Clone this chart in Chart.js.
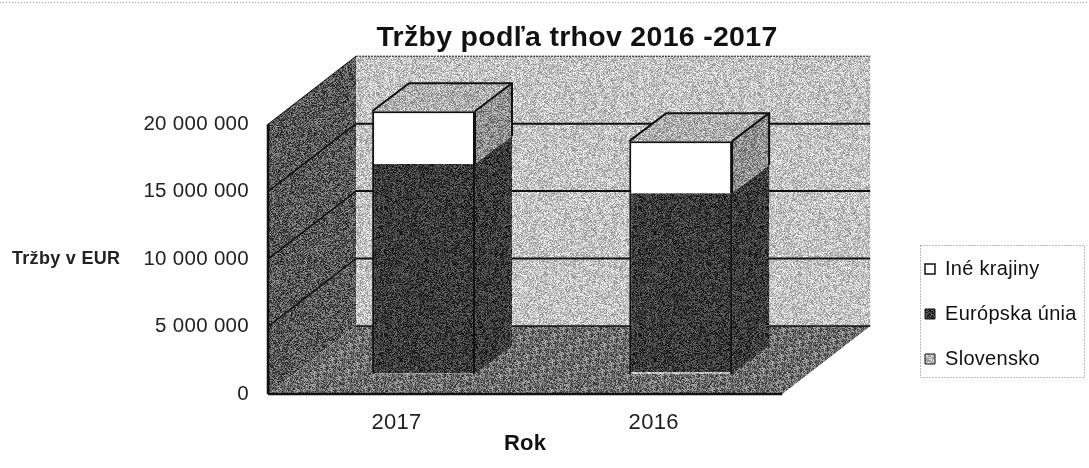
<!DOCTYPE html>
<html>
<head>
<meta charset="utf-8">
<script src="https://cdn.jsdelivr.net/npm/chart.js@4"></script>
<style>
  html, body { margin: 0; background: #fff; }
  #wrap { width: 1089px; height: 468px; }
</style>
</head>
<body>
<div id="wrap"><canvas id="chart"></canvas></div>
<script>
const years = ["2017", "2016"];
const slovensko = [60000, 150000];
const europskaUnia = [15500000, 13250000];
const ineKrajiny = [3920000, 3860000];
const yMax = 20000000;
const yStep = 5000000;

const FONT = '"Liberation Sans", Arial, sans-serif';

// scanned-halftone look: a fixed speckle tile per grey level
function speckle(level, range, seed) {
  const c = document.createElement("canvas");
  c.width = c.height = 127;
  const g = c.getContext("2d");
  const img = g.createImageData(127, 127);
  let s = seed;
  for (let i = 0; i < img.data.length; i += 4) {
    s = (s * 1103515245 + 12345) & 0x7fffffff;
    const v = level + (((s >> 12) % 1000) / 1000 - 0.5) * range;
    img.data[i] = img.data[i + 1] = img.data[i + 2] = v;
    img.data[i + 3] = 255;
  }
  g.putImageData(img, 0, 0);
  return g.createPattern(c, "repeat");
}

const fills = {
  wall: speckle(196, 110, 11),
  side: speckle(88, 130, 23),
  floor: speckle(108, 130, 37),
  top: speckle(175, 110, 41),
  whiteSide: speckle(145, 120, 53),
  dark: speckle(58, 100, 67),
  slov: speckle(190, 110, 79),
};

const scene = {
  id: "scene",
  beforeUpdate(chart) { chart.ctx.letterSpacing = "0.3px"; },
  afterLayout(chart) {
    // legend sits apart from the plot, title is centred over the 3D box
    const lg = chart.legend;
    const w = lg.right - lg.left, h = lg.bottom - lg.top;
    lg.left = 900; lg.right = 900 + w;
    lg.top = 234; lg.bottom = 234 + h;
    const t = chart.titleBlock;
    t.left = 577 - 300; t.right = 577 + 300;
  },
  beforeDraw(chart) { chart.ctx.letterSpacing = "0.3px"; },
  beforeDatasetsDraw(chart) {
    const { ctx, scales: { x, y }, chartArea: a } = chart;
    const dx = 88, dy = -68;
    const poly = (pts, fill) => {
      ctx.beginPath();
      pts.forEach((p, i) => (i ? ctx.lineTo(p[0], p[1]) : ctx.moveTo(p[0], p[1])));
      ctx.closePath();
      ctx.fillStyle = fill;
      ctx.fill();
    };
    const line = (x1, y1, x2, y2, w) => {
      ctx.beginPath();
      ctx.moveTo(x1, y1);
      ctx.lineTo(x2, y2);
      ctx.lineWidth = w;
      ctx.strokeStyle = "#111";
      ctx.stroke();
    };
    const y0 = y.getPixelForValue(0), yTop = y.getPixelForValue(yMax);

    // back wall, side wall, floor
    poly([[a.left + dx, yTop + dy], [a.right + dx, yTop + dy], [a.right + dx, y0 + dy], [a.left + dx, y0 + dy]], fills.wall);
    poly([[a.left, yTop], [a.left + dx, yTop + dy], [a.left + dx, y0 + dy], [a.left, y0]], fills.side);
    poly([[a.left, y0], [a.right, y0], [a.right + dx, y0 + dy], [a.left + dx, y0 + dy]], fills.floor);

    y.ticks.forEach(t => {
      const py = y.getPixelForValue(t.value);
      if (t.value > 0 && t.value < yMax) line(a.left, py, a.left + dx, py + dy, 1.5);
      if (t.value > 0 && t.value < yMax) line(a.left + dx, py + dy, a.right + dx, py + dy, 2);
    });
    line(a.left + dx, y0 + dy, a.right + dx, y0 + dy, 1.5);
    line(a.left, yTop, a.left, y0, 2.5);
    line(a.left, y0, a.right, y0, 2.5);
    line(a.left, yTop, a.left + dx, yTop + dy, 1);
    ctx.save();
    ctx.setLineDash([2, 1]);
    line(a.left + dx, yTop + dy, a.right + dx, yTop + dy, 1);
    ctx.restore();

    // bars stand part-way into the depth of the box
    const fx = 27, fy = -20, bx = 37, by = -28;
    ctx.save();
    ctx.translate(fx, fy);
    const sideFill = [fills.dark, fills.dark, fills.whiteSide];
    const top = chart.getDatasetMeta(2).data;
    years.forEach((_, i) => {
      [0, 1, 2].forEach(d => {
        const b = chart.getDatasetMeta(d).data[i];
        const r = b.x + b.width / 2;
        poly([[r, b.base], [r + bx, b.base + by], [r + bx, b.y + by], [r, b.y]], sideFill[d]);
      });
      // outline only the top box, the dark part has no visible edges
      const b = top[i];
      const l = b.x - b.width / 2, r = b.x + b.width / 2;
      poly([[l, b.y], [l + bx, b.y + by], [r + bx, b.y + by], [r, b.y]], fills.top);
      ctx.beginPath();
      ctx.moveTo(l, b.y);
      ctx.lineTo(l + bx, b.y + by);
      ctx.lineTo(r + bx, b.y + by);
      ctx.lineTo(r + bx, b.base + by);
      ctx.moveTo(r, b.y);
      ctx.lineTo(r + bx, b.y + by);
      ctx.moveTo(r, b.y);
      ctx.lineTo(r, b.base);
      ctx.lineWidth = 2;
      ctx.strokeStyle = "#111";
      ctx.stroke();
    });
    // left open for the dataset draw, closed in afterDatasetsDraw
  },
  afterDatasetsDraw(chart) {
    const { ctx } = chart;
    ctx.restore();

    // y title is horizontal in the original
    ctx.save();
    ctx.font = "bold 18px " + FONT;
    ctx.fillStyle = "#222";
    ctx.textBaseline = "middle";
    ctx.fillText("Tržby v EUR", 12, 259);
    ctx.restore();

    // dotted legend frame and scan line along the top edge
    ctx.save();
    ctx.strokeStyle = "#777";
    ctx.lineWidth = 1;
    ctx.setLineDash([1, 2]);
    ctx.strokeRect(920.5, 245.5, 164, 132);
    ctx.beginPath();
    ctx.moveTo(0, 2.5);
    ctx.lineTo(1089, 2.5);
    ctx.strokeStyle = "#999";
    ctx.stroke();
    ctx.restore();
  },
};

new Chart(document.getElementById("chart"), {
  type: "bar",
  data: {
    labels: years,
    datasets: [
      { label: "Slovensko", data: slovensko, backgroundColor: fills.slov, borderColor: "#111", borderWidth: { left: 2, right: 2 }, clip: false },
      { label: "Európska únia", data: europskaUnia, backgroundColor: fills.dark, borderColor: "#111", borderWidth: { left: 2, right: 2 }, clip: false },
      { label: "Iné krajiny", data: ineKrajiny, backgroundColor: "#fff", borderColor: "#111", borderWidth: { left: 2, top: 2, right: 2 }, clip: false },
    ],
  },
  plugins: [scene],
  options: {
    responsive: true,
    maintainAspectRatio: false,
    animation: false,
    layout: { padding: { right: 120 } },
    datasets: { bar: { barPercentage: 0.4, categoryPercentage: 1 } },
    scales: {
      x: {
        stacked: true,
        grid: { display: false },
        border: { display: false },
        ticks: { color: "#222", padding: 8, font: { family: FONT, size: 22 } },
        title: { display: true, text: "Rok", color: "#111", padding: { top: 0, bottom: 11 }, font: { family: FONT, size: 22, weight: "bold" } },
        afterFit(s) { s.height = 74; },
      },
      y: {
        stacked: true,
        min: 0,
        max: yMax,
        grid: { display: false },
        border: { display: false },
        ticks: {
          stepSize: yStep,
          color: "#222",
          padding: 11,
          font: { family: FONT, size: 20.5 },
          callback: v => String(v).replace(/\B(?=(\d{3})+$)/g, " "),
        },
        afterFit(s) { s.width = 268; },
      },
    },
    plugins: {
      tooltip: { enabled: false },
      title: {
        display: true,
        text: "Tržby podľa trhov 2016 -2017",
        color: "#111",
        padding: { top: 21, bottom: 69 },
        font: { family: FONT, size: 28.5, weight: "bold" },
      },
      legend: {
        position: "right",
        align: "start",
        reverse: true,
        labels: {
          boxWidth: 10,
          boxHeight: 10,
          padding: 25,
          color: "#111",
          font: { family: FONT, size: 20 },
        },
      },
    },
  },
});
</script>
</body>
</html>
